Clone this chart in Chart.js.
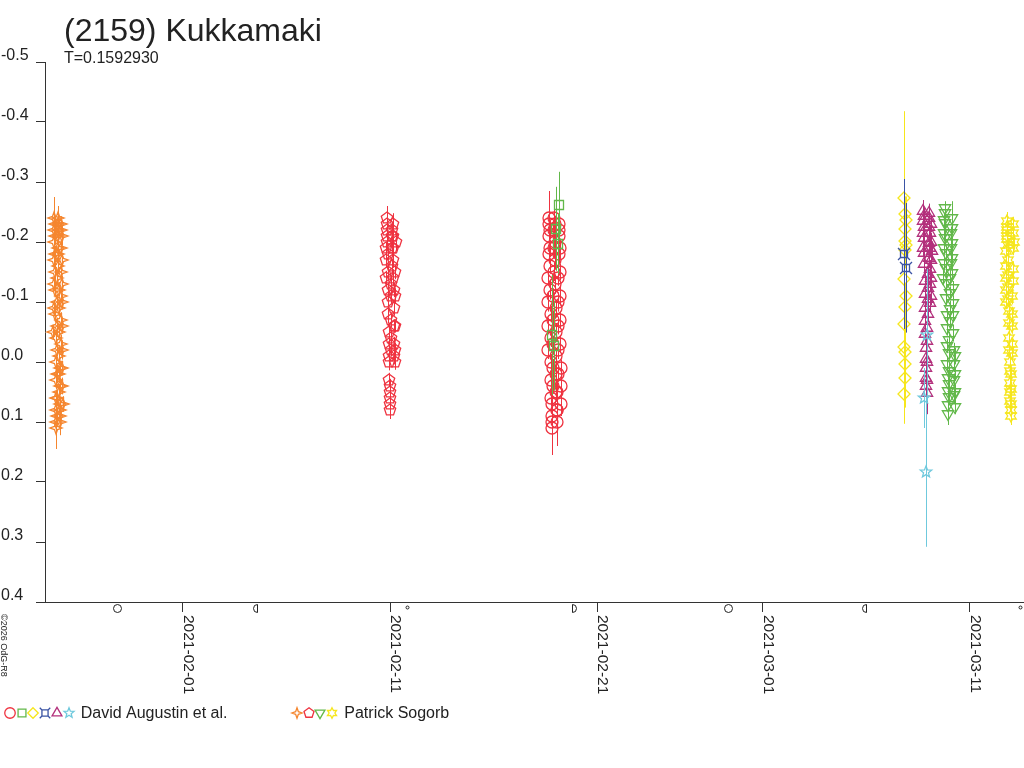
<!DOCTYPE html>
<html>
<head>
<meta charset="utf-8">
<title>(2159) Kukkamaki</title>
<script src="https://cdn.jsdelivr.net/npm/chart.js@4.4.1/dist/chart.umd.min.js"></script>
<style>
  html, body { margin: 0; padding: 0; background: #fff; }
  canvas { display: block; }
</style>
</head>
<body>
<canvas id="lc" width="1024" height="768"></canvas>
<script>
// x values are days counted from 2021-02-01 00:00, y values are relative magnitudes
const dateTickDays = [0, 10, 20, 28, 38];
const dateTickLabels = ["2021-02-01", "2021-02-11", "2021-02-21", "2021-03-01", "2021-03-11"];
const magTicks = [-0.5, -0.4, -0.3, -0.2, -0.1, 0, 0.1, 0.2, 0.3, 0.4];
const magTickLabels = ["-0.5", "-0.4", "-0.3", "-0.2", "-0.1", "0.0", "0.1", "0.2", "0.3", "0.4"];
const moonDays = [-3.2, 3.6, 10.8, 18.8, 26.3, 33.0, 40.4];
const moonKinds = ["full", "last", "new", "first", "full", "last", "new"];

// Patrick Sogorb, Jan 26 (orange 4-point stars)
const orangeX = [-6.25,-6.24,-6.24,-6.23,-6.22,-6.21,-6.21,-6.20,-6.19,-6.18,
  -6.18,-6.17,-6.16,-6.15,-6.15,-6.14,-6.13,-6.12,-6.12,-6.11,
  -6.10,-6.10,-6.09,-6.08,-6.07,-6.07,-6.06,-6.05,-6.04,-6.04,
  -6.03,-6.02,-6.01,-6.01,-6.00,-5.99,-5.98,-5.98,-5.97,-5.96,
  -5.95,-5.95,-5.94,-5.93,-5.93,-5.92,-5.91,-5.90,-5.90,-5.89,
  -5.88,-5.87,-5.87,-5.86,-5.85,-5.85,-5.84,-5.83,-5.83,-5.82,
  -5.82,-5.81];
const orangeY = [-0.05,-0.09,-0.13,-0.17,-0.20,-0.22,-0.24,-0.23,-0.21,-0.18,
  -0.15,-0.12,-0.08,-0.04,0.00,0.03,0.06,0.08,0.10,0.11,
  0.09,0.06,0.02,-0.02,-0.06,-0.10,-0.14,-0.18,-0.21,-0.23,
  -0.24,-0.22,-0.19,-0.16,-0.12,-0.09,-0.05,-0.01,0.02,0.05,
  0.08,0.10,0.09,0.07,0.04,0.01,-0.03,-0.07,-0.11,-0.15,
  -0.19,-0.22,-0.23,-0.21,-0.17,-0.13,-0.10,-0.06,-0.02,0.01,
  0.04,0.07];
const orangeErr = [0.012,0.014,0.011,0.015,0.013,0.016,0.035,0.012,0.014,0.013,
  0.015,0.012,0.014,0.011,0.013,0.016,0.012,0.014,0.018,0.035,
  0.013,0.012,0.015,0.011,0.014,0.013,0.012,0.016,0.013,0.014,
  0.020,0.012,0.015,0.013,0.011,0.014,0.012,0.016,0.013,0.012,
  0.015,0.022,0.013,0.011,0.014,0.012,0.016,0.013,0.012,0.015,
  0.014,0.012,0.013,0.015,0.011,0.014,0.012,0.013,0.016,0.012,
  0.014,0.013];

// Patrick Sogorb, Feb 11 (red pentagons)
const pentX = [9.80,9.81,9.82,9.83,9.84,9.85,9.86,9.87,9.88,9.89,
  9.90,9.91,9.92,9.93,9.94,9.95,9.96,9.97,9.98,9.99,
  10.00,10.01,10.02,10.03,10.04,10.05,10.06,10.07,10.08,10.09,
  10.10,10.11,10.12,10.13,10.14,10.15,10.16,10.17,10.18,10.19,
  10.20,10.21,10.22,10.23,10.24,10.25,10.26,10.27];
const pentY = [-0.14,-0.17,-0.19,-0.21,-0.23,-0.24,-0.22,-0.20,-0.18,-0.15,
  -0.12,-0.10,-0.08,-0.05,-0.03,-0.01,0.00,0.03,0.05,0.07,
  0.08,0.06,0.04,-0.02,-0.04,-0.07,-0.11,-0.13,-0.16,-0.19,
  -0.21,-0.22,-0.23,-0.21,-0.19,-0.17,-0.14,-0.12,-0.09,-0.06,
  -0.03,-0.01,0.00,-0.02,-0.06,-0.11,-0.15,-0.20];
const pentErr = [0.012,0.013,0.011,0.014,0.012,0.020,0.013,0.012,0.011,0.014,
  0.012,0.013,0.015,0.012,0.011,0.013,0.014,0.012,0.013,0.012,
  0.015,0.013,0.012,0.011,0.014,0.012,0.013,0.011,0.012,0.014,
  0.013,0.012,0.018,0.011,0.013,0.012,0.014,0.012,0.013,0.011,
  0.012,0.014,0.013,0.012,0.011,0.013,0.012,0.014];

// David Augustin et al., Feb 18-19 (red circles)
const circX = [17.62,17.63,17.64,17.65,17.66,17.67,17.68,17.69,17.70,17.72,
  17.73,17.74,17.75,17.76,17.77,17.78,17.79,17.80,17.81,17.83,
  17.84,17.85,17.86,17.87,17.88,17.89,17.90,17.91,17.92,17.94,
  17.95,17.96,17.97,17.98,17.99,18.00,18.01,18.02,18.03,18.05,
  18.06,18.07,18.08,18.09,18.10,18.11,18.12,18.13,18.14,18.16,
  18.17,18.18,18.19,18.20,18.21,18.22,18.23,18.24,18.25,18.27];
const circY = [-0.02,-0.06,-0.10,-0.14,-0.18,-0.21,-0.23,-0.24,-0.22,-0.19,
  -0.16,-0.12,-0.08,-0.04,0.00,0.03,0.06,0.09,0.11,0.10,
  0.07,0.04,0.01,-0.03,-0.07,-0.11,-0.15,-0.19,-0.22,-0.24,
  -0.23,-0.20,-0.17,-0.13,-0.09,-0.05,-0.01,0.02,0.05,0.08,
  0.10,0.08,0.05,0.02,-0.02,-0.06,-0.10,-0.14,-0.18,-0.21,
  -0.23,-0.22,-0.19,-0.15,-0.11,-0.07,-0.03,0.01,0.04,0.07];
const circErr = [0.015,0.014,0.016,0.013,0.015,0.014,0.016,0.045,0.015,0.014,
  0.013,0.016,0.014,0.015,0.013,0.016,0.014,0.015,0.045,0.014,
  0.016,0.013,0.015,0.014,0.016,0.013,0.015,0.014,0.016,0.030,
  0.014,0.015,0.013,0.016,0.014,0.015,0.013,0.016,0.014,0.015,
  0.040,0.014,0.016,0.013,0.015,0.014,0.016,0.013,0.015,0.014,
  0.016,0.013,0.015,0.014,0.016,0.013,0.015,0.014,0.016,0.020];

// David Augustin et al., Feb 18-19 (green squares)
const squareX = [18.16, 18.01, 18.11, 17.82, 17.91];
const squareY = [-0.262, -0.222, -0.197, -0.045, -0.027];
const squareErr = [0.055, 0.070, 0.050, 0.100, 0.075];

// David Augustin et al., Mar 7-8 (yellow diamonds, blue boxes)
const diamondX = [34.84,34.86,34.90,34.88,34.85,34.92,34.87,34.83,34.89,34.86,34.84,34.82,34.88,34.85,34.87,34.83];
const diamondY = [-0.273,-0.246,-0.236,-0.222,-0.201,-0.195,-0.186,-0.139,-0.110,-0.092,-0.064,-0.025,-0.017,0.004,0.026,0.053];
const diamondErr = [0.145,0.030,0.040,0.035,0.030,0.040,0.030,0.040,0.035,0.040,0.045,0.050,0.040,0.045,0.050,0.050];
const boxX = [34.81, 34.91];
const boxY = [-0.180, -0.157];
const boxErr = [0.125, 0.108];

// David Augustin et al., Mar 8-9 (magenta triangles, cyan stars)
const triX = [35.72,35.73,35.74,35.75,35.76,35.77,35.78,35.79,35.80,35.81,
  35.82,35.83,35.84,35.85,35.86,35.87,35.88,35.89,35.90,35.91,
  35.92,35.93,35.94,35.95,35.96,35.97,35.98,35.99,36.00,36.01,
  36.02,36.03,36.04,36.05,36.06,36.07,36.08,36.09,36.10,36.11,
  36.12,36.13,36.14,36.15];
const triY = [-0.190,-0.215,-0.235,-0.252,-0.243,-0.225,-0.207,-0.182,-0.163,-0.135,
  -0.113,-0.090,-0.068,-0.047,-0.023,-0.005,0.010,0.027,0.040,0.052,
  0.030,0.000,-0.035,-0.057,-0.080,-0.105,-0.123,-0.147,-0.173,-0.198,
  -0.225,-0.248,-0.240,-0.215,-0.190,-0.155,-0.130,-0.098,-0.110,-0.140,
  -0.170,-0.200,-0.230,-0.185];
const triErr = [0.015,0.014,0.016,0.018,0.015,0.014,0.016,0.015,0.014,0.016,
  0.015,0.014,0.016,0.015,0.017,0.016,0.018,0.020,0.022,0.035,
  0.020,0.018,0.016,0.015,0.014,0.016,0.015,0.014,0.016,0.015,
  0.014,0.016,0.015,0.014,0.016,0.015,0.014,0.016,0.015,0.014,
  0.016,0.015,0.014,0.016];
const cyanX = [35.92, 35.78, 35.88];
const cyanY = [-0.045, 0.060, 0.183];
const cyanErr = [0.110, 0.050, 0.125];

// Patrick Sogorb, Mar 9-10 (green down triangles)
const downX = [36.72,36.73,36.74,36.76,36.77,36.78,36.79,36.80,36.81,36.83,
  36.84,36.85,36.86,36.87,36.88,36.90,36.91,36.92,36.93,36.94,
  36.95,36.97,36.98,36.99,37.00,37.01,37.02,37.04,37.05,37.06,
  37.07,37.08,37.09,37.11,37.12,37.13,37.14,37.15,37.16,37.18,
  37.19,37.20,37.21,37.22,37.23,37.25,37.26,37.27,37.28,37.29];
const downY = [-0.140,-0.165,-0.190,-0.215,-0.237,-0.257,-0.249,-0.232,-0.207,-0.182,
  -0.157,-0.132,-0.107,-0.079,-0.057,-0.027,0.004,0.026,0.048,0.071,
  0.087,0.059,0.037,0.015,-0.015,-0.037,-0.068,-0.088,-0.115,-0.140,
  -0.165,-0.190,-0.215,-0.240,-0.223,-0.198,-0.173,-0.148,-0.123,-0.098,
  -0.079,-0.048,-0.020,0.004,0.030,0.055,0.075,0.050,0.020,-0.010];
const downErr = [0.012,0.013,0.011,0.014,0.012,0.011,0.013,0.012,0.014,0.011,
  0.013,0.012,0.014,0.011,0.013,0.012,0.014,0.013,0.012,0.015,
  0.018,0.013,0.012,0.014,0.011,0.013,0.012,0.014,0.011,0.013,
  0.012,0.014,0.011,0.028,0.012,0.013,0.011,0.014,0.012,0.013,
  0.011,0.014,0.012,0.013,0.011,0.014,0.012,0.013,0.011,0.014];

// Patrick Sogorb, Mar 12-13 (yellow 6-point stars)
const hexX = [39.72,39.73,39.74,39.75,39.76,39.77,39.78,39.79,39.80,39.81,
  39.82,39.83,39.84,39.85,39.86,39.87,39.88,39.89,39.90,39.91,
  39.92,39.93,39.94,39.95,39.96,39.97,39.98,39.99,40.00,40.01,
  40.02,40.03,40.04,40.05,40.06,40.07,40.08,40.09,40.10,40.11];
const hexY = [-0.100,-0.120,-0.140,-0.160,-0.185,-0.205,-0.220,-0.235,-0.225,-0.210,
  -0.195,-0.170,-0.145,-0.125,-0.105,-0.085,-0.065,-0.040,-0.020,0.000,
  0.015,0.035,0.050,0.065,0.080,0.090,0.070,0.045,0.020,-0.015,
  -0.030,-0.060,-0.080,-0.110,-0.135,-0.155,-0.190,-0.215,-0.230,-0.200];
const hexErr = [0.012,0.013,0.012,0.014,0.012,0.013,0.012,0.015,0.012,0.013,
  0.012,0.014,0.012,0.013,0.012,0.014,0.012,0.013,0.012,0.014,
  0.012,0.013,0.012,0.014,0.012,0.015,0.012,0.013,0.012,0.014,
  0.012,0.013,0.012,0.014,0.012,0.013,0.012,0.014,0.012,0.013];

const RED = "#ef3340", GREEN = "#62b84a", YELLOW = "#f6e61c", BLUE = "#3a53a4",
      MAGENTA = "#b3307c", CYAN = "#6fc9dd", ORANGE = "#f5862f";
const FONT = '"Liberation Sans", Arial, sans-serif';
const INK = "#222";

// outline marker drawn into a small canvas, used both as pointStyle and in the legend
function marker(shape, color, size) {
  const c = document.createElement("canvas");
  c.width = size; c.height = size;
  const g = c.getContext("2d");
  const m = size / 2;
  const s = size / 16;
  g.strokeStyle = color;
  g.lineWidth = 1.3;
  g.beginPath();
  const poly = (n, ro, ri, rot) => {
    const count = ri ? n * 2 : n;
    for (let k = 0; k < count; k++) {
      const r = (ri && k % 2 ? ri : ro) * s;
      const a = rot + k * Math.PI * 2 / count;
      const px = m + r * Math.sin(a), py = m - r * Math.cos(a);
      if (k) g.lineTo(px, py); else g.moveTo(px, py);
    }
    g.closePath();
  };
  switch (shape) {
    case "circle": g.arc(m, m, 6 * s, 0, Math.PI * 2); break;
    case "square": g.rect(m - 4.5 * s, m - 4.5 * s, 9 * s, 9 * s); break;
    case "diamond": poly(4, 6, 0, 0); break;
    case "triangle": poly(3, 6.5, 0, 0); break;
    case "down": poly(3, 6.5, 0, Math.PI); break;
    case "pentagon": poly(5, 6, 0, 0); break;
    case "star4": poly(4, 6, 2.2, 0); break;
    case "star5": poly(5, 6, 2.6, 0); break;
    case "star6": poly(6, 6, 3.3, 0); break;
    case "box": {
      const a = 3.5 * s, b = 6 * s;
      g.rect(m - a, m - a, 2 * a, 2 * a);
      [[-1, -1], [1, -1], [-1, 1], [1, 1]].forEach(([dx, dy]) => {
        g.moveTo(m + dx * b, m + dy * b); g.lineTo(m + dx * a, m + dy * a);
      });
      break;
    }
  }
  g.stroke();
  return c;
}

const shapeColors = {
  circle: RED, square: GREEN, diamond: YELLOW, box: BLUE, triangle: MAGENTA, star5: CYAN,
  star4: ORANGE, pentagon: RED, down: GREEN, star6: YELLOW
};
const mk = {}, mkSmall = {};
Object.keys(shapeColors).forEach(k => {
  mk[k] = marker(k, shapeColors[k], 16);
  mkSmall[k] = marker(k, shapeColors[k], 14);
});

const legendGroups = [
  { x: 10, text: "David Augustin et al.", marks: ["circle", "square", "diamond", "box", "triangle", "star5"] },
  { x: 297, text: "Patrick Sogorb", marks: ["star4", "pentagon", "down", "star6"] }
];

function series(xs, ys, errs, style, color) {
  return {
    data: xs.map((x, i) => ({ x: x, y: ys[i] })),
    errors: errs,
    barColor: color,
    pointStyle: mk[style],
    pointRadius: 5,
    showLine: false
  };
}

const errorBars = {
  id: "errorBars",
  beforeDraw(chart) {
    chart.ctx.imageSmoothingEnabled = false;
  },
  beforeDatasetDraw(chart, args) {
    const ds = chart.data.datasets[args.index];
    if (!ds.errors) return;
    const { ctx, chartArea: a } = chart;
    const ys = chart.scales.y;
    ctx.save();
    ctx.beginPath();
    ctx.rect(a.left, a.top, a.right - a.left, a.bottom - a.top);
    ctx.clip();
    ctx.strokeStyle = ds.barColor;
    ctx.lineWidth = 1;
    ctx.beginPath();
    args.meta.data.forEach((pt, i) => {
      const v = ds.data[i].y, e = ds.errors[i];
      const x = Math.round(pt.x) + 0.5;
      ctx.moveTo(x, ys.getPixelForValue(v - e));
      ctx.lineTo(x, ys.getPixelForValue(v + e));
    });
    ctx.stroke();
    ctx.restore();
  }
};

const decor = {
  id: "decor",
  afterDraw(chart) {
    const ctx = chart.ctx;
    const xs = chart.scales.x, ys = chart.scales.y;
    ctx.save();
    ctx.fillStyle = INK;
    ctx.strokeStyle = INK;
    ctx.textAlign = "left";
    ctx.textBaseline = "alphabetic";

    ctx.font = "32px " + FONT;
    ctx.fillText("(2159) Kukkamaki", 64, 41);
    ctx.font = "16px " + FONT;
    ctx.fillText("T=0.1592930", 64, 63);

    magTicks.forEach((v, i) => {
      ctx.fillText(magTickLabels[i], 1, Math.round(ys.getPixelForValue(v)) - 2);
    });

    ctx.font = "15.5px " + FONT;
    dateTickDays.forEach((d, i) => {
      ctx.save();
      ctx.translate(Math.round(xs.getPixelForValue(d)) + 1, 615);
      ctx.rotate(Math.PI / 2);
      ctx.fillText(dateTickLabels[i], 0, 0);
      ctx.restore();
    });

    ctx.lineWidth = 1;
    moonDays.forEach((d, i) => {
      const x = Math.round(xs.getPixelForValue(d)) + 0.5, y = 608.5;
      ctx.beginPath();
      switch (moonKinds[i]) {
        case "full": ctx.arc(x, y, 4, 0, Math.PI * 2); break;
        case "new": ctx.arc(x, y - 1, 1.5, 0, Math.PI * 2); break;
        case "first":
          ctx.moveTo(x, y + 4); ctx.lineTo(x, y - 4);
          ctx.arc(x, y, 4, -Math.PI / 2, Math.PI / 2); break;
        case "last":
          ctx.moveTo(x, y - 4); ctx.lineTo(x, y + 4);
          ctx.arc(x, y, 4, Math.PI / 2, Math.PI * 1.5); break;
      }
      ctx.stroke();
    });

    ctx.save();
    ctx.font = "9px " + FONT;
    ctx.translate(1, 614);
    ctx.rotate(Math.PI / 2);
    ctx.fillText("\u00a92026 OdG-R8", 0, 0);
    ctx.restore();

    ctx.font = "16px " + FONT;
    legendGroups.forEach(grp => {
      grp.marks.forEach((k, j) => {
        const c = mkSmall[k];
        ctx.drawImage(c, Math.round(grp.x + j * 11.7) - 7, 713 - 7);
      });
      ctx.fillText(grp.text, grp.x + grp.marks.length * 11.7 + 0.5, 718);
    });
    ctx.restore();
  }
};

new Chart(document.getElementById("lc"), {
  type: "scatter",
  data: {
    datasets: [
      series(squareX, squareY, squareErr, "square", GREEN),
      series(boxX, boxY, boxErr, "box", BLUE),
      series(cyanX, cyanY, cyanErr, "star5", CYAN),
      series(orangeX, orangeY, orangeErr, "star4", ORANGE),
      series(pentX, pentY, pentErr, "pentagon", RED),
      series(circX, circY, circErr, "circle", RED),
      series(diamondX, diamondY, diamondErr, "diamond", YELLOW),
      series(triX, triY, triErr, "triangle", MAGENTA),
      series(downX, downY, downErr, "down", GREEN),
      series(hexX, hexY, hexErr, "star6", YELLOW)
    ]
  },
  options: {
    responsive: false,
    animation: false,
    devicePixelRatio: 1,
    layout: { autoPadding: false, padding: { top: 62, left: 0, right: 0, bottom: 0 } },
    plugins: { legend: { display: false }, title: { display: false }, tooltip: { enabled: false } },
    scales: {
      x: {
        type: "linear",
        min: -6.66,
        max: 40.61,
        grid: { drawOnChartArea: false, drawTicks: true, tickLength: 10, color: "#333" },
        border: { color: "#333" },
        ticks: { display: false },
        afterBuildTicks: s => { s.ticks = dateTickDays.map(v => ({ value: v })); },
        afterFit: s => { s.height = 166; }
      },
      y: {
        type: "linear",
        reverse: true,
        min: -0.5,
        max: 0.4,
        grid: { drawOnChartArea: false, drawTicks: true, tickLength: 9, color: "#333" },
        border: { color: "#333" },
        ticks: { display: false },
        afterBuildTicks: s => { s.ticks = magTicks.map(v => ({ value: v })); },
        afterFit: s => { s.width = 45; }
      }
    }
  },
  plugins: [errorBars, decor]
});
</script>
</body>
</html>
